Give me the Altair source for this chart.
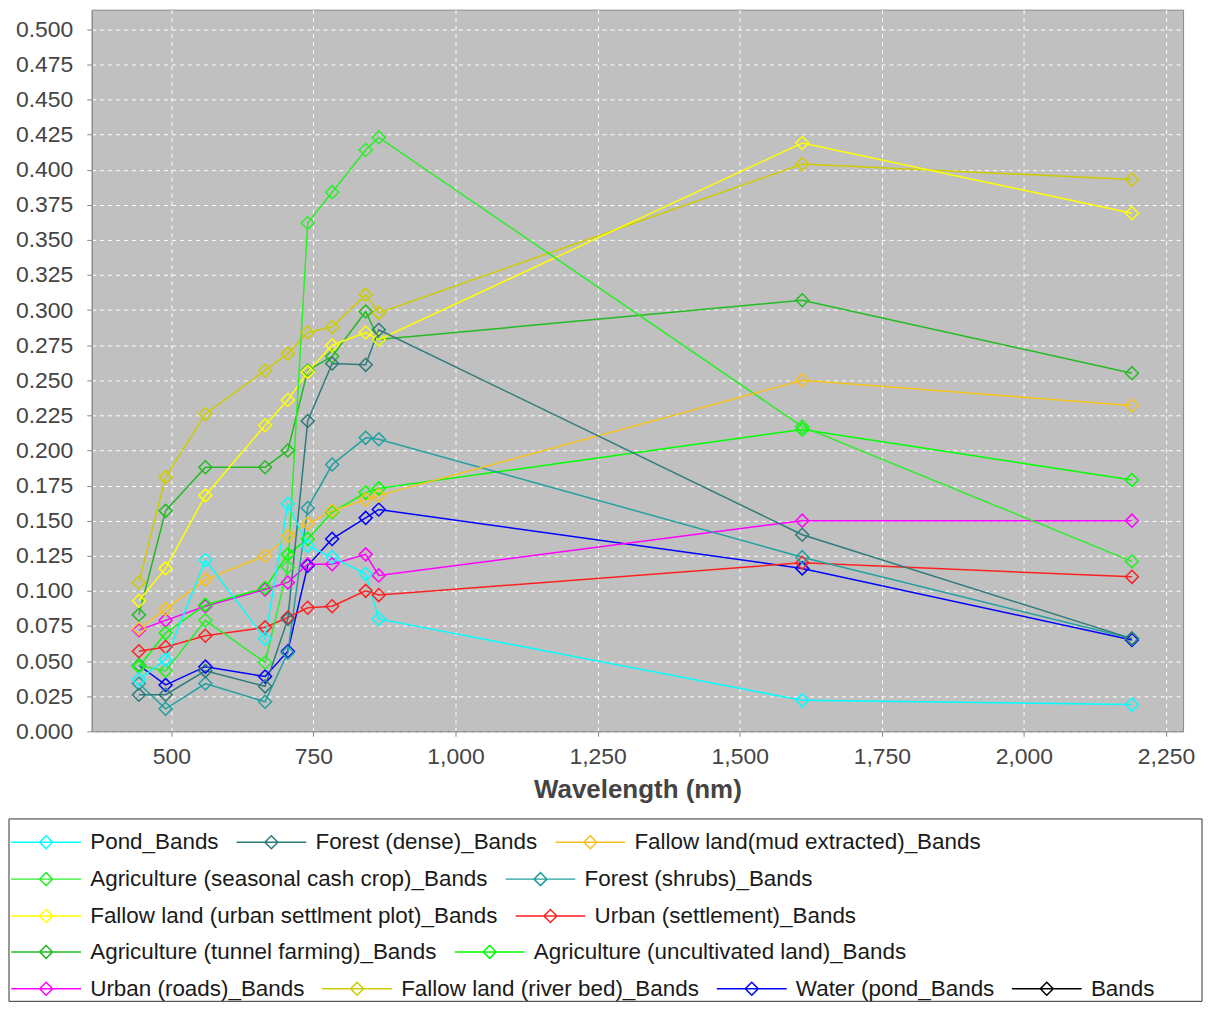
import altair as alt
import pandas as pd

# ---- data ----
wavelengths = [443, 490, 560, 665, 705, 740, 783, 842, 865, 1610, 2190]

pond = [0.037, 0.051, 0.122, 0.066, 0.162, 0.132, 0.124, 0.112, 0.080, 0.022, 0.019]
forest_dense = [0.026, 0.026, 0.043, 0.032, 0.080, 0.221, 0.262, 0.261, 0.286, 0.140, 0.066]
fallow_mud = [0.073, 0.087, 0.108, 0.125, 0.139, 0.148, 0.157, 0.165, 0.168, 0.250, 0.232]
agri_seasonal = [0.047, 0.043, 0.079, 0.049, 0.117, 0.362, 0.384, 0.414, 0.423, 0.217, 0.121]
forest_shrubs = [0.034, 0.016, 0.034, 0.021, 0.056, 0.159, 0.190, 0.209, 0.208, 0.124, 0.066]
fallow_urban = [0.093, 0.116, 0.168, 0.218, 0.236, 0.256, 0.275, 0.284, 0.279, 0.419, 0.369]
urban_settlement = [0.057, 0.060, 0.068, 0.074, 0.081, 0.088, 0.089, 0.100, 0.097, 0.120, 0.110]
agri_tunnel = [0.083, 0.157, 0.188, 0.188, 0.200, 0.257, 0.267, 0.299, 0.279, 0.307, 0.255]
agri_uncultivated = [0.046, 0.070, 0.090, 0.102, 0.126, 0.137, 0.156, 0.170, 0.173, 0.215, 0.179]
urban_roads = [0.072, 0.079, 0.089, 0.101, 0.106, 0.119, 0.119, 0.126, 0.111, 0.150, 0.150]
fallow_river = [0.106, 0.181, 0.226, 0.257, 0.269, 0.284, 0.288, 0.311, 0.298, 0.404, 0.393]
water = [0.047, 0.033, 0.046, 0.039, 0.057, 0.118, 0.137, 0.152, 0.158, 0.116, 0.065]

series_names = [
    "Pond_Bands", "Forest (dense)_Bands", "Fallow land(mud extracted)_Bands",
    "Agriculture (seasonal cash crop)_Bands", "Forest (shrubs)_Bands",
    "Fallow land (urban settlment plot)_Bands", "Urban (settlement)_Bands",
    "Agriculture (tunnel farming)_Bands", "Agriculture (uncultivated land)_Bands",
    "Urban (roads)_Bands", "Fallow land (river bed)_Bands", "Water (pond_Bands", "Bands",
]
series_colors = [
    "#00FFFF", "#2F7A7A", "#F5C21B",
    "#2AEE2A", "#22A0A0",
    "#FFFF00", "#FF2020",
    "#22BB22", "#00FF00",
    "#FF00FF", "#CCCC00", "#0000FF", "#000000",
]
series_values = [
    pond, forest_dense, fallow_mud, agri_seasonal, forest_shrubs, fallow_urban,
    urban_settlement, agri_tunnel, agri_uncultivated, urban_roads, fallow_river, water,
]

legend_rows = [
    series_names[0:3],
    series_names[3:5],
    series_names[5:7],
    series_names[7:9],
    series_names[9:13],
]

x_ticks = [500, 750, 1000, 1250, 1500, 1750, 2000, 2250]
y_ticks = [i * 0.025 for i in range(21)]

# ---- table (drawn in reverse so the first series ends on top) ----
records = []
for name, vals in reversed(list(zip(series_names, series_values))):
    for w, v in zip(wavelengths, vals):
        records.append({"series": name, "wavelength": w, "value": v})
df = pd.DataFrame(records)

color_map = dict(zip(series_names, series_colors))
FONT = "Liberation Sans"

x_enc = alt.X(
    "wavelength:Q",
    scale=alt.Scale(domain=[360, 2280], nice=False, zero=False),
    axis=alt.Axis(
        values=x_ticks, format=",d", title="Wavelength (nm)",
        labelFont=FONT, labelFontSize=23, labelColor="#444444",
        titleFont=FONT, titleFontSize=26, titleFontWeight="bold", titleColor="#444444",
        titlePadding=8, tickColor="#888888", domainColor="#888888",
        tickSize=5, labelPadding=9,
        grid=True, gridColor="white", gridDash=[4, 4], gridWidth=1,
    ),
)
y_enc = alt.Y(
    "value:Q",
    scale=alt.Scale(domain=[0, 0.514], nice=False, zero=False),
    axis=alt.Axis(
        values=y_ticks, format=".3f", title=None,
        labelFont=FONT, labelFontSize=23, labelColor="#444444",
        tickColor="#888888", domainColor="#888888",
        tickSize=5, labelPadding=14,
        grid=True, gridColor="white", gridDash=[4, 4], gridWidth=1,
    ),
)
color_main = alt.Color(
    "series:N",
    scale=alt.Scale(domain=series_names, range=series_colors),
    legend=None,
)

base = alt.Chart(df)
lines = base.mark_line(strokeWidth=1.5).encode(x=x_enc, y=y_enc, color=color_main)
points = base.mark_point(shape="diamond", filled=False, size=170, strokeWidth=1.5, opacity=1).encode(
    x=x_enc, y=y_enc, color=color_main
)

# legend frame
frame = alt.Chart(pd.DataFrame({"k": [0]})).mark_rect(
    filled=False, color="#333333", strokeWidth=1
).encode(x=alt.value(-83), x2=alt.value(1114), y=alt.value(812), y2=alt.value(995))

# legend rows (one independent legend per row, like the flowing Java legend)
sym_path = "M-3.5,0L3.5,0M0,-0.65L0.65,0L0,0.65L-0.65,0Z"
row_y = [824, 861, 898, 934, 971]
legend_layers = []
for names, ly in zip(legend_rows, row_y):
    cols = [color_map[n] for n in names]
    leg = alt.Chart(pd.DataFrame({"series": pd.Series([], dtype="object")})).mark_point().encode(
        color=alt.Color(
            "series:N",
            scale=alt.Scale(domain=names, range=cols),
            legend=alt.Legend(
                title=None, orient="none", legendX=-57, legendY=ly,
                direction="horizontal", columns=len(names), columnPadding=14, padding=0,
                labelFont=FONT, labelFontSize=22.5, labelColor="#1A1A1A",
                labelOffset=33, labelLimit=1000,
                symbolType=sym_path, symbolSize=400, symbolStrokeWidth=1.5,
                symbolFillColor="transparent", symbolOpacity=1,
            ),
        )
    )
    legend_layers.append(leg)

chart = (
    alt.layer(lines, points, frame, *legend_layers)
    .resolve_scale(color="independent")
    .properties(
        width=1095, height=724, padding=0, background="white",
        view=alt.ViewBackground(fill="#C0C0C0", stroke="#888888"),
    )
    .configure_view(fill="#C0C0C0", stroke="#888888")
)

chart.save("out.html", embed_options={"renderer": "svg", "actions": False})
